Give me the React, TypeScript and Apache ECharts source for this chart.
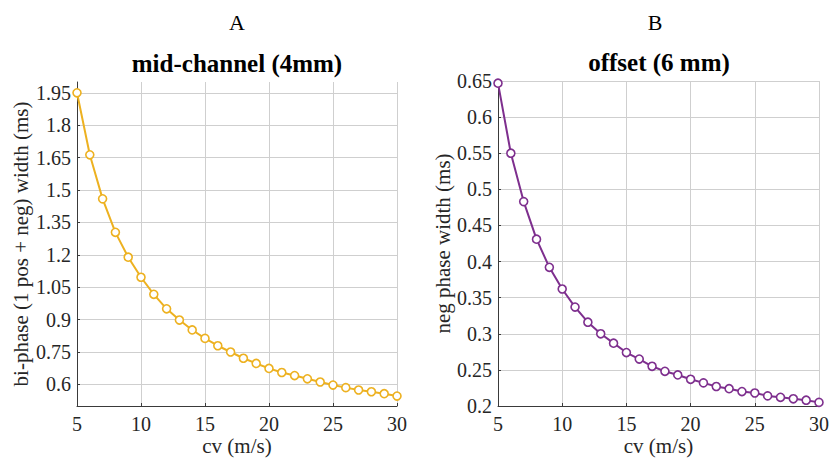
import React, { useEffect, useRef } from "react";
import * as echarts from "echarts";

const cv = [5, 6, 7, 8, 9, 10, 11, 12, 13, 14, 15, 16, 17, 18, 19, 20, 21, 22, 23, 24, 25, 26, 27, 28, 29, 30];
const midChannel = [1.95, 1.663, 1.459, 1.304, 1.189, 1.096, 1.017, 0.95, 0.898, 0.852, 0.813, 0.779, 0.75, 0.721, 0.697, 0.674, 0.655, 0.641, 0.626, 0.611, 0.597, 0.585, 0.574, 0.566, 0.557, 0.546];
const offset = [0.647, 0.55, 0.483, 0.431, 0.392, 0.362, 0.337, 0.316, 0.3, 0.287, 0.274, 0.265, 0.255, 0.248, 0.243, 0.237, 0.232, 0.227, 0.224, 0.22, 0.218, 0.214, 0.212, 0.21, 0.208, 0.205];
const yTicksA = [0.6, 0.75, 0.9, 1.05, 1.2, 1.35, 1.5, 1.65, 1.8, 1.95];

const FONT = "Liberation Serif";
const AXIS_COLOR = "#3a3a3a";
const GRID_COLOR = "#cfcfcf";
const TEXT_COLOR = "#262626";

export default function App() {
  const ref = useRef<HTMLDivElement>(null);
  useEffect(() => {
    if (!ref.current) return;
    const chart = echarts.init(ref.current, undefined, { renderer: "svg" });
    const xAxisBase = (gridIndex: number) => ({
      type: "value",
      gridIndex,
      min: 5,
      max: 30,
      interval: 5,
      name: "cv (m/s)",
      nameLocation: "middle",
      nameGap: 29,
      nameMoveOverlap: false,
      nameTextStyle: { fontFamily: FONT, fontSize: 21, color: TEXT_COLOR, lineHeight: 21 },
      axisLine: { show: true, lineStyle: { color: AXIS_COLOR, width: 1 } },
      axisTick: { show: true, inside: true, length: 3, lineStyle: { color: AXIS_COLOR } },
      axisLabel: { fontFamily: FONT, fontSize: 20, color: TEXT_COLOR, margin: 8 },
      splitLine: { show: true, lineStyle: { color: GRID_COLOR, width: 1 } },
    });
    const option: any = {
      animation: false,
      backgroundColor: "#ffffff",
      textStyle: { fontFamily: FONT },
      grid: [
        { left: 77, top: 82, width: 320, height: 324, outerBoundsMode: "none", containLabel: false },
        { left: 498, top: 81, width: 321, height: 325, outerBoundsMode: "none", containLabel: false },
      ],
      xAxis: [xAxisBase(0), xAxisBase(1)],
      yAxis: [
        {
          type: "value",
          gridIndex: 0,
          min: 0.5,
          max: 2.0,
          name: "bi-phase (1 pos + neg) width (ms)",
          nameLocation: "middle",
          nameGap: 46,
          nameMoveOverlap: false,
          nameTextStyle: { fontFamily: FONT, fontSize: 21, color: TEXT_COLOR, lineHeight: 21 },
          axisLine: { show: true, lineStyle: { color: AXIS_COLOR, width: 1 } },
          axisTick: { show: true, inside: true, length: 3, customValues: yTicksA, lineStyle: { color: AXIS_COLOR } },
          axisLabel: { fontFamily: FONT, fontSize: 20, color: TEXT_COLOR, margin: 6, customValues: yTicksA },
          splitLine: { show: true, lineStyle: { color: GRID_COLOR, width: 1 } },
        },
        {
          type: "value",
          gridIndex: 1,
          min: 0.2,
          max: 0.65,
          interval: 0.05,
          name: "neg phase width (ms)",
          nameLocation: "middle",
          nameGap: 45,
          nameMoveOverlap: false,
          nameTextStyle: { fontFamily: FONT, fontSize: 21, color: TEXT_COLOR, lineHeight: 21 },
          axisLine: { show: true, lineStyle: { color: AXIS_COLOR, width: 1 } },
          axisTick: { show: true, inside: true, length: 3, lineStyle: { color: AXIS_COLOR } },
          axisLabel: { fontFamily: FONT, fontSize: 20, color: TEXT_COLOR, margin: 6 },
          splitLine: { show: true, lineStyle: { color: GRID_COLOR, width: 1 } },
        },
      ],
      series: [
        {
          type: "line",
          xAxisIndex: 0,
          yAxisIndex: 0,
          data: cv.map((x, i) => [x, midChannel[i]]),
          symbol: "circle",
          symbolSize: 8,
          showAllSymbol: true,
          lineStyle: { color: "#EDB120", width: 2 },
          itemStyle: { color: "#ffffff", borderColor: "#EDB120", borderWidth: 1.6 },
          clip: false,
        },
        {
          type: "line",
          xAxisIndex: 1,
          yAxisIndex: 1,
          data: cv.map((x, i) => [x, offset[i]]),
          symbol: "circle",
          symbolSize: 8,
          showAllSymbol: true,
          lineStyle: { color: "#7E2F8E", width: 2 },
          itemStyle: { color: "#ffffff", borderColor: "#7E2F8E", borderWidth: 1.6 },
          clip: false,
        },
      ],
      graphic: [
        { type: "text", x: 237, y: 22.5, style: { text: "A", fontFamily: FONT, fontSize: 22, fill: "#000", textAlign: "center", textVerticalAlign: "middle" } },
        { type: "text", x: 237, y: 63.5, style: { text: "mid-channel (4mm)", fontFamily: FONT, fontSize: 25, fontWeight: "bold", fill: "#000", textAlign: "center", textVerticalAlign: "middle" } },
        { type: "text", x: 655, y: 22, style: { text: "B", fontFamily: FONT, fontSize: 22, fill: "#000", textAlign: "center", textVerticalAlign: "middle" } },
        { type: "text", x: 659, y: 62, style: { text: "offset (6 mm)", fontFamily: FONT, fontSize: 25, fontWeight: "bold", fill: "#000", textAlign: "center", textVerticalAlign: "middle" } },
      ],
    };
    chart.setOption(option);
    return () => chart.dispose();
  }, []);
  return <div ref={ref} style={{ position: "fixed", left: 0, top: 0, width: 829, height: 459 }} />;
}
